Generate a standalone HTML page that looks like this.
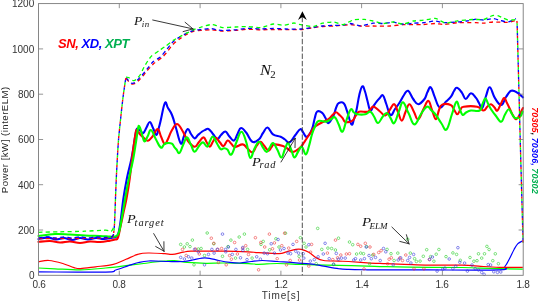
<!DOCTYPE html><html><head><meta charset="utf-8"><title>chart</title><style>
html,body{margin:0;padding:0;background:#fff}
body{width:539px;height:301px;position:relative;overflow:hidden;font-family:"Liberation Sans",sans-serif;color:#333}
.t{position:absolute;white-space:nowrap;line-height:1;will-change:transform}
.xt{font-size:10px;top:279.6px;letter-spacing:-0.3px;transform:translateX(-50%);}
.yt{font-size:10px;right:504.8px;transform:translateY(-50%);}
.m{font-family:"Liberation Serif",serif;font-style:italic;color:#111}
.m sub{font-size:72%;vertical-align:baseline;position:relative;top:0.25em;letter-spacing:0.3px}
.m .w{display:inline-block;transform:scaleX(1.1);transform-origin:0 50%;margin-right:0.02em}
</style></head><body>
<svg width="539" height="301" viewBox="0 0 539 301" style="position:absolute;left:0;top:0">
<defs><filter id="nf" x="-50%" y="-5%" width="200%" height="110%" color-interpolation-filters="sRGB"><feOffset dx="0" dy="0"/></filter></defs>
<rect width="539" height="301" fill="#fff"/>
<g fill="none" stroke-width="1.2" stroke-linejoin="round">
<path d="M38.5 268.0 C41.2 268.1 48.0 268.5 55.0 268.8 C62.0 269.1 72.0 270.0 80.5 269.9 C89.0 269.8 98.1 268.7 105.7 268.0 C113.3 267.3 119.7 266.4 126.0 265.6 C132.3 264.9 138.8 264.1 143.6 263.5 C148.4 262.9 151.4 262.4 155.0 262.0 C158.6 261.6 161.7 261.3 164.9 261.1 C168.1 260.9 170.5 260.4 174.2 260.6 C177.9 260.8 181.9 261.9 187.2 262.4 C192.5 262.8 199.6 263.2 205.8 263.3 C212.0 263.4 217.2 262.9 224.3 263.0 C231.4 263.1 242.8 263.4 248.5 263.6 C254.2 263.8 253.8 264.3 258.6 264.3 C263.4 264.3 271.0 263.5 277.2 263.5 C283.4 263.5 289.6 264.1 295.8 264.3 C302.0 264.5 307.2 264.6 314.3 264.8 C321.4 265.0 329.7 265.2 338.5 265.4 C347.3 265.6 359.3 265.9 367.2 266.1 C375.1 266.3 375.6 266.5 385.8 266.7 C396.0 266.9 415.8 267.3 428.5 267.4 C441.2 267.5 453.4 267.4 462.0 267.5 C470.6 267.6 469.9 267.8 480.0 268.1 C490.1 268.4 515.7 269.0 522.8 269.2" stroke="#00ff00"/>
<path d="M38.5 271.9 C49.7 271.9 92.8 272.4 105.7 272.1 C118.6 271.8 112.0 271.1 115.8 270.0 C119.6 268.9 124.6 266.9 128.4 265.6 C132.2 264.4 135.1 263.3 138.5 262.5 C141.9 261.7 143.6 261.2 148.6 261.0 C153.6 260.8 162.8 261.4 168.6 261.5 C174.4 261.6 179.5 261.8 183.5 261.5 C187.5 261.2 189.7 260.6 192.8 260.0 C195.9 259.4 199.2 258.4 202.0 258.1 C204.8 257.8 206.7 257.9 209.5 258.3 C212.3 258.7 215.4 259.8 218.8 260.5 C222.2 261.2 226.5 262.0 230.0 262.4 C233.5 262.8 236.5 263.1 240.0 263.0 C243.5 262.9 247.5 261.9 251.2 261.5 C254.9 261.1 258.0 260.5 262.3 260.5 C266.6 260.5 271.6 261.1 277.2 261.5 C282.8 261.9 289.6 262.3 295.8 262.8 C302.0 263.3 309.7 263.8 314.3 264.3 C318.9 264.9 319.6 265.4 323.6 266.1 C327.6 266.8 334.3 268.1 338.5 268.7 C342.7 269.2 343.8 269.2 348.6 269.4 C353.4 269.6 361.0 269.7 367.2 269.8 C373.4 269.9 375.6 269.8 385.8 269.8 C396.0 269.8 409.6 269.9 428.5 269.9 C447.4 269.9 486.6 270.4 499.3 269.8 C512.0 269.2 503.3 268.2 505.0 266.3 C506.7 264.4 508.1 261.4 509.6 258.5 C511.1 255.7 512.8 251.7 514.2 249.2 C515.6 246.7 516.5 245.0 517.9 243.6 C519.3 242.2 522.0 241.3 522.8 240.8" stroke="#0000ff"/>
<path d="M38.5 261.8 C40.2 261.6 45.0 260.2 49.0 260.5 C53.0 260.8 58.6 262.3 62.8 263.5 C67.0 264.7 71.0 266.8 74.0 267.6 C77.0 268.5 76.9 268.7 80.5 268.6 C84.1 268.5 90.1 267.5 95.6 266.8 C101.1 266.1 108.2 265.6 113.3 264.3 C118.4 263.1 121.8 261.0 126.0 259.3 C130.2 257.6 134.7 255.2 138.5 254.2 C142.3 253.1 144.2 253.1 148.6 253.0 C153.0 252.9 160.9 253.5 164.9 253.7 C168.9 253.9 169.2 254.7 172.3 254.4 C175.4 254.2 180.4 252.7 183.5 252.2 C186.6 251.7 184.1 251.4 190.9 251.2 C197.7 251.0 214.7 251.1 224.3 251.2 C233.9 251.3 242.8 251.6 248.5 251.8 C254.2 252.1 253.5 252.4 258.6 252.7 C263.7 253.0 274.4 253.8 279.0 253.7 C283.6 253.5 283.7 252.5 286.5 251.8 C289.3 251.1 293.3 249.8 295.8 249.4 C298.3 249.0 299.1 248.9 301.3 249.4 C303.5 249.9 306.3 250.8 308.8 252.2 C311.3 253.6 313.7 256.4 316.2 257.8 C318.7 259.2 319.9 259.9 323.6 260.5 C327.3 261.1 334.3 260.9 338.5 261.1 C342.7 261.3 343.8 261.2 348.6 261.5 C353.4 261.8 361.0 262.4 367.2 262.8 C373.4 263.2 379.6 263.4 385.8 263.7 C392.0 263.9 397.2 264.1 404.3 264.3 C411.4 264.5 418.9 265.0 428.5 265.1 C438.1 265.2 453.5 264.9 462.2 265.1 C470.9 265.3 474.6 265.9 480.8 266.3 C487.0 266.7 492.3 267.1 499.3 267.3 C506.3 267.5 518.9 267.4 522.8 267.4" stroke="#ff0000"/>
</g>
<g fill="none" stroke="#22cc22" stroke-width="0.58">
<circle cx="180.7" cy="244.4" r="1.3"/>
<circle cx="184.4" cy="247.0" r="1.3"/>
<circle cx="187.2" cy="243.8" r="1.3"/>
<circle cx="190.0" cy="246.6" r="1.3"/>
<circle cx="192.4" cy="240.1" r="1.3"/>
<circle cx="198.3" cy="249.0" r="1.3"/>
<circle cx="201.1" cy="248.5" r="1.3"/>
<circle cx="207.2" cy="233.0" r="1.3"/>
<circle cx="213.8" cy="243.8" r="1.3"/>
<circle cx="204.5" cy="255.5" r="1.3"/>
<circle cx="194.0" cy="264.8" r="1.3"/>
<circle cx="222.5" cy="256.3" r="1.3"/>
<circle cx="230.9" cy="240.1" r="1.3"/>
<circle cx="228.0" cy="246.6" r="1.3"/>
<circle cx="239.2" cy="237.0" r="1.3"/>
<circle cx="244.4" cy="234.1" r="1.3"/>
<circle cx="235.5" cy="258.1" r="1.3"/>
<circle cx="247.6" cy="249.4" r="1.3"/>
<circle cx="252.1" cy="258.1" r="1.3"/>
<circle cx="261.0" cy="244.4" r="1.3"/>
<circle cx="263.2" cy="241.4" r="1.3"/>
<circle cx="269.7" cy="249.8" r="1.3"/>
<circle cx="275.9" cy="238.8" r="1.3"/>
<circle cx="279.0" cy="247.0" r="1.3"/>
<circle cx="285.5" cy="233.2" r="1.3"/>
<circle cx="300.4" cy="237.7" r="1.3"/>
<circle cx="304.1" cy="243.3" r="1.3"/>
<circle cx="306.0" cy="247.0" r="1.3"/>
<circle cx="317.7" cy="228.4" r="1.3"/>
<circle cx="321.8" cy="249.4" r="1.3"/>
<circle cx="327.9" cy="248.1" r="1.3"/>
<circle cx="331.6" cy="248.5" r="1.3"/>
<circle cx="335.4" cy="250.0" r="1.3"/>
<circle cx="338.5" cy="238.2" r="1.3"/>
<circle cx="299.1" cy="256.3" r="1.3"/>
<circle cx="316.2" cy="263.7" r="1.3"/>
<circle cx="349.5" cy="242.0" r="1.3"/>
<circle cx="352.7" cy="244.7" r="1.3"/>
<circle cx="356.6" cy="254.0" r="1.3"/>
<circle cx="360.7" cy="253.1" r="1.3"/>
<circle cx="363.5" cy="253.7" r="1.3"/>
<circle cx="366.6" cy="246.6" r="1.3"/>
<circle cx="372.8" cy="255.0" r="1.3"/>
<circle cx="387.1" cy="249.4" r="1.3"/>
<circle cx="391.0" cy="253.7" r="1.3"/>
<circle cx="397.8" cy="253.1" r="1.3"/>
<circle cx="394.1" cy="260.5" r="1.3"/>
<circle cx="407.7" cy="239.2" r="1.3"/>
<circle cx="410.3" cy="253.1" r="1.3"/>
<circle cx="414.6" cy="258.7" r="1.3"/>
<circle cx="416.4" cy="261.5" r="1.3"/>
<circle cx="420.1" cy="261.1" r="1.3"/>
<circle cx="423.3" cy="256.3" r="1.3"/>
<circle cx="426.7" cy="249.7" r="1.3"/>
<circle cx="333.7" cy="264.3" r="1.3"/>
<circle cx="369.6" cy="263.7" r="1.3"/>
<circle cx="430.6" cy="256.6" r="1.3"/>
<circle cx="433.9" cy="261.2" r="1.3"/>
<circle cx="436.2" cy="254.2" r="1.3"/>
<circle cx="438.9" cy="249.5" r="1.3"/>
<circle cx="446.0" cy="256.6" r="1.3"/>
<circle cx="452.9" cy="252.9" r="1.3"/>
<circle cx="456.6" cy="254.4" r="1.3"/>
<circle cx="460.3" cy="260.3" r="1.3"/>
<circle cx="470.0" cy="257.5" r="1.3"/>
<circle cx="473.9" cy="261.2" r="1.3"/>
<circle cx="477.0" cy="260.7" r="1.3"/>
<circle cx="478.5" cy="253.8" r="1.3"/>
<circle cx="481.7" cy="258.1" r="1.3"/>
<circle cx="484.5" cy="253.8" r="1.3"/>
<circle cx="486.9" cy="246.4" r="1.3"/>
<circle cx="489.1" cy="249.5" r="1.3"/>
<circle cx="492.8" cy="260.7" r="1.3"/>
<circle cx="495.3" cy="253.8" r="1.3"/>
<circle cx="498.4" cy="263.7" r="1.3"/>
</g>
<g fill="none" stroke="#ee3333" stroke-width="0.58">
<circle cx="182.5" cy="249.4" r="1.3"/>
<circle cx="186.2" cy="255.5" r="1.3"/>
<circle cx="195.5" cy="249.0" r="1.3"/>
<circle cx="199.3" cy="254.0" r="1.3"/>
<circle cx="211.3" cy="238.2" r="1.3"/>
<circle cx="213.8" cy="243.3" r="1.3"/>
<circle cx="217.8" cy="249.4" r="1.3"/>
<circle cx="221.6" cy="248.5" r="1.3"/>
<circle cx="234.6" cy="242.5" r="1.3"/>
<circle cx="242.7" cy="248.3" r="1.3"/>
<circle cx="245.7" cy="245.7" r="1.3"/>
<circle cx="229.6" cy="255.5" r="1.3"/>
<circle cx="231.4" cy="259.2" r="1.3"/>
<circle cx="237.4" cy="254.0" r="1.3"/>
<circle cx="218.4" cy="262.4" r="1.3"/>
<circle cx="226.2" cy="264.8" r="1.3"/>
<circle cx="248.5" cy="254.5" r="1.3"/>
<circle cx="255.4" cy="237.7" r="1.3"/>
<circle cx="260.8" cy="242.5" r="1.3"/>
<circle cx="269.4" cy="234.1" r="1.3"/>
<circle cx="264.7" cy="247.0" r="1.3"/>
<circle cx="272.5" cy="248.8" r="1.3"/>
<circle cx="274.4" cy="242.9" r="1.3"/>
<circle cx="284.6" cy="233.2" r="1.3"/>
<circle cx="281.8" cy="245.7" r="1.3"/>
<circle cx="288.7" cy="248.1" r="1.3"/>
<circle cx="296.7" cy="241.4" r="1.3"/>
<circle cx="277.2" cy="258.7" r="1.3"/>
<circle cx="290.2" cy="260.5" r="1.3"/>
<circle cx="286.5" cy="264.8" r="1.3"/>
<circle cx="299.5" cy="260.0" r="1.3"/>
<circle cx="311.6" cy="244.4" r="1.3"/>
<circle cx="310.6" cy="252.2" r="1.3"/>
<circle cx="327.4" cy="253.1" r="1.3"/>
<circle cx="335.5" cy="240.1" r="1.3"/>
<circle cx="337.6" cy="257.8" r="1.3"/>
<circle cx="258.6" cy="269.8" r="1.3"/>
<circle cx="308.8" cy="266.1" r="1.3"/>
<circle cx="340.8" cy="255.0" r="1.3"/>
<circle cx="332.8" cy="259.6" r="1.3"/>
<circle cx="346.4" cy="254.0" r="1.3"/>
<circle cx="349.5" cy="253.7" r="1.3"/>
<circle cx="357.9" cy="244.4" r="1.3"/>
<circle cx="360.7" cy="246.2" r="1.3"/>
<circle cx="365.3" cy="243.3" r="1.3"/>
<circle cx="370.0" cy="247.0" r="1.3"/>
<circle cx="373.7" cy="254.4" r="1.3"/>
<circle cx="378.7" cy="252.5" r="1.3"/>
<circle cx="381.1" cy="250.7" r="1.3"/>
<circle cx="389.1" cy="259.2" r="1.3"/>
<circle cx="391.3" cy="257.8" r="1.3"/>
<circle cx="399.7" cy="258.1" r="1.3"/>
<circle cx="405.8" cy="255.0" r="1.3"/>
<circle cx="402.5" cy="260.5" r="1.3"/>
<circle cx="387.6" cy="263.7" r="1.3"/>
<circle cx="414.0" cy="268.9" r="1.3"/>
<circle cx="364.0" cy="268.9" r="1.3"/>
<circle cx="423.9" cy="268.9" r="1.3"/>
<circle cx="429.4" cy="259.6" r="1.3"/>
</g>
<g fill="none" stroke="#3333dd" stroke-width="0.58">
<circle cx="180.7" cy="257.4" r="1.3"/>
<circle cx="184.4" cy="259.0" r="1.3"/>
<circle cx="188.5" cy="256.8" r="1.3"/>
<circle cx="191.8" cy="258.1" r="1.3"/>
<circle cx="194.6" cy="249.4" r="1.3"/>
<circle cx="198.3" cy="251.8" r="1.3"/>
<circle cx="211.9" cy="249.4" r="1.3"/>
<circle cx="214.1" cy="253.1" r="1.3"/>
<circle cx="208.5" cy="254.4" r="1.3"/>
<circle cx="217.3" cy="249.4" r="1.3"/>
<circle cx="222.5" cy="234.1" r="1.3"/>
<circle cx="225.8" cy="251.8" r="1.3"/>
<circle cx="225.6" cy="249.4" r="1.3"/>
<circle cx="228.4" cy="247.0" r="1.3"/>
<circle cx="232.3" cy="254.4" r="1.3"/>
<circle cx="235.9" cy="249.4" r="1.3"/>
<circle cx="240.5" cy="257.8" r="1.3"/>
<circle cx="242.9" cy="250.3" r="1.3"/>
<circle cx="204.5" cy="264.8" r="1.3"/>
<circle cx="247.0" cy="259.6" r="1.3"/>
<circle cx="242.8" cy="247.5" r="1.3"/>
<circle cx="256.7" cy="256.8" r="1.3"/>
<circle cx="260.4" cy="259.2" r="1.3"/>
<circle cx="264.2" cy="253.1" r="1.3"/>
<circle cx="267.5" cy="253.7" r="1.3"/>
<circle cx="271.2" cy="243.8" r="1.3"/>
<circle cx="278.1" cy="239.5" r="1.3"/>
<circle cx="274.4" cy="253.1" r="1.3"/>
<circle cx="280.5" cy="250.0" r="1.3"/>
<circle cx="284.0" cy="248.5" r="1.3"/>
<circle cx="288.0" cy="253.1" r="1.3"/>
<circle cx="290.6" cy="253.7" r="1.3"/>
<circle cx="293.0" cy="244.4" r="1.3"/>
<circle cx="295.8" cy="251.2" r="1.3"/>
<circle cx="298.6" cy="253.1" r="1.3"/>
<circle cx="303.2" cy="253.7" r="1.3"/>
<circle cx="303.8" cy="258.1" r="1.3"/>
<circle cx="308.8" cy="244.7" r="1.3"/>
<circle cx="310.3" cy="261.1" r="1.3"/>
<circle cx="314.3" cy="259.6" r="1.3"/>
<circle cx="318.1" cy="256.8" r="1.3"/>
<circle cx="323.3" cy="254.0" r="1.3"/>
<circle cx="325.1" cy="243.3" r="1.3"/>
<circle cx="329.2" cy="258.7" r="1.3"/>
<circle cx="333.5" cy="264.3" r="1.3"/>
<circle cx="336.3" cy="253.4" r="1.3"/>
<circle cx="338.4" cy="259.2" r="1.3"/>
<circle cx="341.5" cy="258.1" r="1.3"/>
<circle cx="345.2" cy="258.1" r="1.3"/>
<circle cx="353.8" cy="260.0" r="1.3"/>
<circle cx="355.5" cy="258.7" r="1.3"/>
<circle cx="360.7" cy="260.0" r="1.3"/>
<circle cx="364.4" cy="258.7" r="1.3"/>
<circle cx="366.2" cy="247.0" r="1.3"/>
<circle cx="369.0" cy="255.5" r="1.3"/>
<circle cx="371.3" cy="258.7" r="1.3"/>
<circle cx="375.5" cy="257.4" r="1.3"/>
<circle cx="383.5" cy="248.5" r="1.3"/>
<circle cx="385.8" cy="251.8" r="1.3"/>
<circle cx="380.2" cy="260.5" r="1.3"/>
<circle cx="393.2" cy="264.8" r="1.3"/>
<circle cx="398.2" cy="260.0" r="1.3"/>
<circle cx="400.6" cy="257.8" r="1.3"/>
<circle cx="407.7" cy="260.5" r="1.3"/>
<circle cx="409.6" cy="257.4" r="1.3"/>
<circle cx="413.6" cy="254.4" r="1.3"/>
<circle cx="410.9" cy="263.0" r="1.3"/>
<circle cx="429.6" cy="259.4" r="1.3"/>
<circle cx="432.4" cy="257.0" r="1.3"/>
<circle cx="437.1" cy="271.1" r="1.3"/>
<circle cx="442.7" cy="269.2" r="1.3"/>
<circle cx="444.9" cy="268.1" r="1.3"/>
<circle cx="449.2" cy="259.0" r="1.3"/>
<circle cx="452.9" cy="268.7" r="1.3"/>
<circle cx="455.7" cy="266.3" r="1.3"/>
<circle cx="457.9" cy="247.7" r="1.3"/>
<circle cx="459.8" cy="262.2" r="1.3"/>
<circle cx="464.6" cy="263.1" r="1.3"/>
<circle cx="467.4" cy="271.1" r="1.3"/>
<circle cx="472.0" cy="265.0" r="1.3"/>
<circle cx="475.2" cy="268.7" r="1.3"/>
<circle cx="478.5" cy="270.0" r="1.3"/>
<circle cx="481.7" cy="272.4" r="1.3"/>
<circle cx="484.1" cy="274.3" r="1.3"/>
<circle cx="488.2" cy="264.6" r="1.3"/>
<circle cx="490.6" cy="265.0" r="1.3"/>
<circle cx="493.8" cy="271.8" r="1.3"/>
<circle cx="497.5" cy="272.4" r="1.3"/>
<circle cx="500.8" cy="272.0" r="1.3"/>
</g>
<g fill="none" stroke-width="2.1" stroke-linejoin="round" stroke-linecap="round">
<path d="M38.5 239.0 C40.5 238.7 44.4 237.5 48.0 237.6 C51.6 237.7 52.7 239.4 56.0 239.5 C59.3 239.6 60.7 237.9 64.0 238.0 C67.3 238.1 68.7 240.0 72.0 240.0 C75.3 240.0 76.7 238.1 80.0 238.0 C83.3 237.9 84.7 239.5 88.0 239.5 C91.3 239.5 92.7 238.1 96.0 238.0 C99.3 237.9 100.7 239.1 104.0 239.0 C107.3 238.9 109.5 238.1 112.0 237.6 C114.5 237.1 114.7 237.8 116.0 236.8 C117.3 235.8 117.6 236.1 118.5 233.0 C119.4 229.9 119.5 229.2 120.5 222.0 C121.5 214.8 122.2 207.1 123.5 198.0 C124.8 188.9 125.4 186.1 127.0 178.0 C128.6 169.9 129.9 166.4 131.4 159.0 C132.9 151.6 133.3 148.0 134.3 142.0 C135.3 136.0 135.6 132.6 136.4 130.0 C137.2 127.4 137.3 129.2 138.0 129.3 C138.7 129.4 138.9 129.6 140.0 130.4 C141.1 131.2 142.0 133.6 143.3 133.0 C144.6 132.4 145.2 129.8 146.5 127.5 C147.8 125.2 148.5 121.9 149.8 122.0 C151.1 122.1 151.7 125.3 153.0 128.0 C154.3 130.7 155.2 134.8 156.3 135.0 C157.4 135.2 157.6 132.1 158.5 129.0 C159.4 125.9 159.5 125.4 160.8 120.0 C162.1 114.6 163.4 105.5 164.9 103.0 C166.4 100.5 166.5 105.5 168.0 108.0 C169.5 110.5 170.3 110.9 172.0 115.0 C173.7 119.1 174.2 122.1 176.0 128.0 C177.8 133.9 179.1 141.7 180.8 143.4 C182.5 145.1 182.6 139.0 184.0 136.0 C185.4 133.0 186.4 129.4 187.8 129.0 C189.2 128.6 189.6 132.1 191.0 134.0 C192.4 135.9 193.2 138.2 194.6 138.4 C196.0 138.6 196.4 136.4 198.0 135.0 C199.6 133.6 200.8 132.5 202.2 131.5 C203.6 130.5 203.7 130.5 205.0 130.0 C206.3 129.5 206.8 128.2 208.5 129.0 C210.2 129.8 211.2 131.9 213.0 134.0 C214.8 136.1 215.6 138.8 217.3 139.0 C219.0 139.2 219.3 136.6 221.0 135.0 C222.7 133.4 223.7 131.3 225.4 131.5 C227.1 131.7 227.2 134.1 229.0 136.0 C230.8 137.9 232.1 141.0 233.9 140.6 C235.7 140.2 236.0 136.6 237.5 134.0 C239.0 131.4 239.1 128.2 241.0 128.0 C242.9 127.8 244.2 130.1 246.5 133.0 C248.8 135.9 249.7 140.5 252.3 141.8 C254.9 143.1 256.8 141.1 259.0 139.3 C261.2 137.5 261.2 135.4 263.0 133.0 C264.8 130.6 265.4 127.2 267.5 127.5 C269.6 127.8 270.3 132.4 273.0 134.3 C275.7 136.2 278.1 135.7 280.6 136.8 C283.1 137.9 283.2 138.3 285.0 139.5 C286.8 140.7 287.3 143.4 289.4 142.6 C291.5 141.8 292.7 138.3 295.0 135.5 C297.3 132.7 298.5 129.7 300.3 129.2 C302.1 128.7 302.1 131.4 303.5 133.0 C304.9 134.6 305.2 137.6 307.0 136.8 C308.8 136.0 310.4 133.1 312.0 129.2 C313.6 125.3 313.7 121.7 314.8 118.0 C315.9 114.3 315.7 112.6 317.2 111.5 C318.7 110.4 320.5 111.5 322.2 112.8 C323.9 114.1 324.2 115.9 325.5 118.0 C326.8 120.1 326.8 123.6 328.5 123.0 C330.2 122.4 332.1 118.4 333.6 115.3 C335.2 112.2 334.9 110.5 336.0 108.0 C337.1 105.5 337.1 104.2 338.7 103.2 C340.3 102.2 342.0 101.6 343.7 103.2 C345.4 104.8 345.4 106.6 347.0 111.0 C348.6 115.4 350.0 122.7 351.4 124.4 C352.8 126.1 353.0 121.9 354.0 119.0 C355.0 116.1 355.3 115.5 356.4 110.5 C357.5 105.5 358.1 100.0 359.3 95.0 C360.5 90.0 361.1 87.0 362.3 86.3 C363.5 85.6 363.9 88.5 365.0 91.5 C366.1 94.5 366.4 97.1 367.5 101.0 C368.6 104.9 369.1 109.5 370.3 110.5 C371.5 111.5 372.2 107.8 373.5 106.0 C374.8 104.2 375.3 103.3 376.6 101.6 C377.9 99.9 378.5 99.3 379.8 98.0 C381.1 96.7 381.7 94.2 383.0 95.4 C384.3 96.6 384.8 99.9 386.3 104.0 C387.9 108.1 388.7 114.0 390.5 115.0 C392.3 116.0 393.2 111.5 395.0 109.0 C396.8 106.5 397.4 105.9 399.3 103.0 C401.2 100.1 402.2 97.5 404.0 95.0 C405.8 92.5 406.2 90.0 408.1 90.8 C410.0 91.6 411.1 96.2 413.2 99.0 C415.3 101.8 415.9 104.2 418.2 104.2 C420.5 104.2 422.6 101.5 424.5 99.0 C426.4 96.5 426.2 94.4 427.5 92.0 C428.8 89.6 429.3 86.3 430.8 87.3 C432.3 88.3 432.8 92.4 434.6 96.6 C436.4 100.8 437.3 106.4 439.7 107.4 C442.1 108.4 443.7 103.8 446.0 101.6 C448.3 99.4 449.3 98.8 451.0 96.6 C452.7 94.4 452.8 92.8 454.0 91.0 C455.2 89.2 455.3 87.4 457.0 87.8 C458.7 88.2 460.2 90.5 462.0 92.8 C463.8 95.1 464.0 98.9 465.8 99.0 C467.6 99.1 468.8 93.5 470.9 93.3 C473.0 93.1 474.3 95.9 476.0 97.9 C477.7 99.9 477.7 100.9 479.0 103.0 C480.3 105.1 480.8 109.4 482.2 108.0 C483.6 106.6 484.4 100.3 486.0 96.0 C487.6 91.7 488.0 86.9 489.8 87.3 C491.6 87.7 492.4 94.2 494.8 97.9 C497.2 101.6 498.9 105.2 501.2 105.0 C503.5 104.8 503.9 99.9 506.0 97.0 C508.1 94.1 508.8 91.7 511.2 90.8 C513.6 89.9 515.2 91.4 517.6 92.8 C520.0 94.2 521.9 96.4 523.0 97.4" stroke="#0000ff"/>
<path d="M38.5 241.8 C40.9 241.6 45.6 240.9 50.0 241.0 C54.4 241.1 55.9 242.4 60.0 242.5 C64.1 242.6 65.9 241.4 70.0 241.5 C74.1 241.6 75.9 243.0 80.0 243.0 C84.1 243.0 85.9 241.7 90.0 241.5 C94.1 241.3 95.9 242.2 100.0 242.0 C104.1 241.8 106.9 241.1 110.0 240.6 C113.1 240.1 113.3 240.1 115.0 239.5 C116.7 238.9 116.8 240.5 118.0 237.5 C119.2 234.5 119.6 230.3 120.8 225.0 C122.0 219.7 122.4 217.6 123.6 212.0 C124.8 206.4 125.3 205.0 126.6 198.0 C127.9 191.0 128.7 186.1 129.8 178.0 C130.9 169.9 131.2 165.8 132.0 159.0 C132.8 152.2 133.1 150.0 133.8 145.0 C134.5 140.0 134.7 138.2 135.3 135.0 C135.9 131.8 135.8 129.8 136.8 129.7 C137.8 129.6 138.5 132.6 140.0 134.3 C141.5 136.0 142.4 136.7 144.0 138.0 C145.6 139.3 146.1 141.1 147.9 140.8 C149.7 140.5 150.5 138.9 152.5 136.5 C154.5 134.1 155.8 129.1 157.6 129.1 C159.4 129.1 159.5 133.4 161.0 136.5 C162.5 139.6 163.3 143.5 164.7 144.0 C166.1 144.5 166.5 141.9 168.0 139.0 C169.5 136.1 170.1 133.1 172.0 130.0 C173.9 126.9 174.9 124.0 177.0 124.0 C179.1 124.0 179.7 126.5 182.0 130.0 C184.3 133.5 185.4 137.5 188.0 141.0 C190.6 144.5 192.3 146.5 194.6 146.7 C196.9 146.9 197.2 143.9 199.0 142.0 C200.8 140.1 201.9 137.4 203.5 137.4 C205.1 137.4 205.2 140.1 206.5 142.0 C207.8 143.9 208.5 146.8 209.8 146.7 C211.1 146.6 211.7 143.3 213.0 141.5 C214.3 139.7 214.6 137.7 216.0 137.9 C217.4 138.1 218.4 140.8 220.0 142.5 C221.6 144.2 222.0 146.4 223.6 146.0 C225.2 145.6 226.0 141.0 227.6 140.6 C229.2 140.2 230.0 142.7 231.5 144.0 C233.0 145.3 232.7 146.9 235.0 147.0 C237.3 147.1 240.1 144.1 242.7 144.4 C245.3 144.7 245.5 146.9 247.5 148.5 C249.5 150.1 250.6 152.8 252.5 152.3 C254.4 151.8 254.9 148.2 256.5 146.0 C258.1 143.8 258.8 141.9 260.4 141.8 C261.9 141.7 262.3 143.7 264.0 145.5 C265.7 147.3 266.9 150.3 268.5 150.6 C270.1 150.9 270.3 148.3 271.5 147.0 C272.7 145.7 271.9 144.6 274.3 144.4 C276.7 144.2 280.2 145.0 283.0 146.0 C285.8 147.0 286.1 147.8 288.0 149.0 C289.9 150.2 290.2 151.5 292.0 151.8 C293.8 152.1 294.7 151.3 296.5 150.3 C298.3 149.3 299.2 148.6 300.8 147.0 C302.4 145.4 302.7 144.4 304.0 142.5 C305.3 140.6 305.6 140.2 307.0 138.0 C308.4 135.8 309.4 134.3 311.0 132.0 C312.6 129.7 312.6 128.6 314.7 126.7 C316.8 124.8 318.1 124.6 321.0 123.0 C323.9 121.4 326.1 120.7 328.5 119.0 C330.9 117.3 330.9 116.4 332.5 115.0 C334.1 113.6 334.6 112.3 336.0 112.3 C337.4 112.3 338.2 113.8 339.5 115.0 C340.8 116.2 341.3 116.5 342.4 117.9 C343.5 119.3 343.6 121.0 345.0 121.8 C346.4 122.6 347.4 122.2 349.0 122.0 C350.6 121.8 351.2 121.9 352.6 120.6 C354.0 119.3 354.7 117.3 356.0 115.5 C357.3 113.7 356.6 112.5 359.0 111.7 C361.4 110.9 365.3 112.4 367.8 111.7 C370.3 111.0 369.7 109.5 371.0 108.5 C372.3 107.5 372.1 106.1 374.0 106.7 C375.9 107.3 377.6 109.7 380.0 111.5 C382.4 113.3 383.3 115.9 385.4 115.5 C387.5 115.1 388.2 111.8 390.0 109.5 C391.8 107.2 392.6 103.7 394.3 104.2 C396.0 104.7 396.4 108.6 398.0 112.0 C399.6 115.4 400.2 120.6 401.8 120.6 C403.4 120.6 403.9 115.4 405.5 112.0 C407.1 108.6 407.6 104.2 409.4 104.2 C411.2 104.2 412.2 108.9 414.0 112.0 C415.8 115.1 416.2 119.9 418.2 119.3 C420.2 118.7 421.4 112.8 423.5 109.0 C425.6 105.2 426.5 100.7 428.3 100.9 C430.1 101.1 430.4 106.2 432.0 110.0 C433.6 113.8 434.5 119.3 435.9 119.3 C437.3 119.3 437.7 113.0 439.0 110.0 C440.3 107.0 439.8 105.6 442.2 104.6 C444.6 103.6 448.3 104.0 450.7 105.0 C453.1 106.0 452.6 107.6 454.0 109.5 C455.4 111.4 456.0 114.3 457.3 114.3 C458.6 114.3 459.2 111.1 460.5 109.5 C461.8 107.9 460.3 107.3 463.8 106.7 C467.3 106.1 473.1 105.9 477.2 106.7 C481.3 107.5 481.4 110.5 483.5 110.5 C485.6 110.5 485.9 107.8 487.5 106.5 C489.1 105.2 489.6 104.0 491.0 104.2 C492.4 104.4 493.2 106.2 494.5 107.5 C495.8 108.8 496.1 111.3 497.4 110.5 C498.7 109.7 499.6 106.1 501.0 103.5 C502.4 100.9 503.0 98.0 504.2 97.9 C505.4 97.8 505.8 100.7 507.0 103.0 C508.2 105.3 508.8 106.6 510.0 109.2 C511.2 111.8 511.7 113.4 513.0 115.5 C514.3 117.6 515.0 119.4 516.3 119.3 C517.6 119.2 518.1 117.3 519.5 115.0 C520.9 112.7 522.3 109.4 523.0 108.0" stroke="#ff0000"/>
<path d="M38.5 236.0 C41.9 235.6 48.5 234.3 55.0 234.0 C61.5 233.7 63.8 234.2 70.0 234.5 C76.2 234.8 78.8 235.2 85.0 235.5 C91.2 235.8 94.8 235.8 100.0 236.0 C105.2 236.2 107.0 236.5 110.0 236.6 C113.0 236.7 113.0 237.0 114.7 236.6 C116.4 236.2 116.9 236.3 118.0 234.5 C119.1 232.7 119.2 231.6 120.0 228.0 C120.8 224.4 120.9 223.2 122.0 217.0 C123.1 210.8 123.8 206.1 125.2 198.0 C126.6 189.9 127.3 186.1 129.0 178.0 C130.7 169.9 131.8 166.4 133.2 159.0 C134.6 151.6 135.0 148.0 136.0 142.0 C137.0 136.0 137.2 133.3 137.8 130.0 C138.4 126.7 138.2 126.0 138.8 125.8 C139.4 125.6 139.7 126.9 140.5 129.0 C141.3 131.1 141.7 133.4 142.5 136.0 C143.3 138.6 143.5 141.4 144.6 141.4 C145.7 141.4 146.5 138.3 147.8 136.0 C149.1 133.7 149.4 129.4 151.1 130.1 C152.8 130.8 154.0 135.9 156.0 139.5 C158.0 143.1 159.1 146.5 160.8 147.5 C162.5 148.5 162.8 145.4 164.0 144.5 C165.2 143.6 165.1 143.3 166.7 143.1 C168.3 142.9 170.3 142.7 171.9 143.6 C173.5 144.5 173.5 146.1 174.5 147.3 C175.5 148.5 175.5 148.3 176.5 149.5 C177.5 150.7 178.1 154.1 179.5 153.0 C180.9 151.9 181.9 147.2 183.5 144.0 C185.1 140.8 185.4 137.2 187.0 137.4 C188.6 137.6 189.4 142.0 191.0 145.0 C192.6 148.0 192.9 151.5 194.6 151.7 C196.3 151.9 197.3 147.9 199.0 146.0 C200.7 144.1 201.3 142.3 203.0 142.4 C204.7 142.5 205.8 147.0 207.2 146.7 C208.6 146.4 208.8 143.1 210.0 141.0 C211.2 138.9 211.6 136.1 213.0 136.6 C214.4 137.1 215.4 140.9 217.0 143.5 C218.6 146.1 219.2 148.2 220.6 149.2 C222.0 150.2 222.6 148.1 224.0 148.2 C225.4 148.3 225.9 148.2 227.4 149.5 C228.9 150.8 229.5 156.0 231.4 154.4 C233.3 152.8 234.4 146.7 236.5 142.0 C238.6 137.3 239.4 131.5 241.5 131.7 C243.6 131.9 244.7 137.6 246.5 143.0 C248.3 148.4 248.5 156.7 250.2 157.8 C251.9 158.9 252.7 151.8 254.5 148.5 C256.3 145.2 257.2 142.0 259.0 141.8 C260.8 141.6 261.4 145.4 263.0 147.5 C264.6 149.6 265.3 152.1 266.7 152.0 C268.1 151.9 268.7 148.9 270.0 147.0 C271.3 145.1 271.4 142.4 273.0 143.0 C274.6 143.6 275.8 147.0 277.5 150.0 C279.2 153.0 279.8 157.7 281.3 157.5 C282.9 157.3 283.6 152.0 285.0 149.0 C286.4 146.0 286.7 142.7 288.0 143.0 C289.3 143.3 290.2 147.5 291.5 150.5 C292.8 153.5 293.1 157.3 294.5 157.4 C295.9 157.5 296.9 153.1 298.5 151.0 C300.1 148.9 300.5 146.3 302.0 147.0 C303.5 147.7 304.4 154.6 305.8 154.4 C307.2 154.2 307.7 150.2 309.0 146.0 C310.3 141.8 310.8 138.3 312.0 134.3 C313.2 130.3 313.7 129.2 315.0 126.5 C316.3 123.8 316.1 122.0 318.4 121.0 C320.7 120.0 323.5 121.9 326.0 121.6 C328.5 121.3 328.7 120.4 330.5 119.5 C332.3 118.6 333.1 116.4 334.8 117.3 C336.5 118.2 336.9 121.0 338.5 124.0 C340.1 127.0 340.7 132.5 342.4 131.7 C344.1 130.9 344.8 124.6 346.5 120.0 C348.2 115.4 349.1 111.0 350.7 109.5 C352.2 108.0 352.6 111.5 354.0 112.5 C355.4 113.5 355.4 113.9 357.7 114.3 C360.0 114.7 362.6 114.8 365.2 114.3 C367.8 113.8 368.5 111.2 370.3 111.7 C372.1 112.2 372.4 114.2 374.0 116.5 C375.6 118.8 376.1 122.9 377.9 123.0 C379.7 123.1 380.7 119.1 382.5 117.0 C384.3 114.9 385.0 112.8 386.7 113.0 C388.4 113.2 388.9 115.9 390.5 118.0 C392.1 120.1 392.5 124.4 394.3 123.0 C396.1 121.6 397.2 115.3 399.0 111.0 C400.8 106.7 401.0 102.0 403.0 102.4 C405.0 102.8 406.1 108.5 408.5 113.0 C410.9 117.5 411.8 124.2 414.4 124.4 C417.0 124.6 418.4 117.7 421.0 114.0 C423.6 110.3 424.8 107.4 427.0 106.7 C429.2 106.0 429.7 108.8 431.5 110.5 C433.3 112.2 433.8 112.3 435.9 115.0 C438.0 117.7 439.3 120.5 441.5 123.5 C443.7 126.5 444.4 131.4 446.6 129.4 C448.8 127.4 450.0 119.7 452.0 114.0 C454.0 108.3 454.8 102.9 456.4 101.8 C457.9 100.7 458.2 105.8 459.5 108.5 C460.8 111.2 461.2 114.0 462.5 114.8 C463.8 115.6 464.3 113.4 466.0 112.5 C467.7 111.6 468.1 110.9 470.9 110.5 C473.7 110.1 477.3 111.8 479.7 110.5 C482.1 109.2 481.3 106.5 482.5 104.0 C483.7 101.5 484.2 98.5 485.3 98.4 C486.4 98.3 486.8 101.3 488.0 103.5 C489.2 105.7 489.3 106.6 491.0 109.2 C492.7 111.8 493.9 113.4 496.0 116.0 C498.1 118.6 499.3 122.1 501.2 121.8 C503.1 121.5 503.4 117.1 505.0 114.5 C506.6 111.9 507.3 109.3 508.7 109.2 C510.1 109.1 510.7 112.2 512.0 114.0 C513.3 115.8 513.3 117.4 515.0 118.0 C516.7 118.6 518.4 118.1 520.0 116.8 C521.6 115.5 522.1 112.8 522.6 111.7" stroke="#00ff00"/>
</g>
<g fill="none" stroke-width="1.3" stroke-dasharray="4 3.3">
<path d="M38.5 238.6 C41.0 238.6 54.6 238.6 60.0 238.6 C65.4 238.6 79.8 238.5 85.0 238.4 C90.2 238.3 101.8 238.1 105.0 238.0 C108.2 237.9 111.0 238.1 112.0 237.5 C113.0 236.9 113.8 233.5 114.0 233.0" stroke="#ff0000"/>
<path d="M126.3 78.5 C126.6 78.8 128.1 80.9 128.7 81.5 C129.3 82.1 131.0 83.8 131.8 84.0 C132.6 84.2 134.4 83.8 135.3 83.3 C136.2 82.8 138.5 80.8 139.3 80.0 C140.1 79.2 141.6 77.5 142.5 76.5 C143.4 75.5 145.3 72.8 146.7 71.2 C148.1 69.6 152.5 64.7 154.3 63.1 C156.1 61.5 160.5 58.8 161.9 57.6 C163.3 56.4 164.9 54.6 166.2 53.0 C167.5 51.4 171.6 45.8 173.2 44.2 C174.8 42.6 177.9 40.3 179.5 39.1 C181.1 37.9 185.4 35.0 187.1 34.1 C188.8 33.2 192.4 31.4 194.0 31.0 C195.6 30.6 199.0 30.4 201.0 30.3 C203.0 30.2 208.6 29.7 211.1 29.8 C213.6 29.9 220.0 30.9 222.8 31.0 C225.6 31.1 232.5 30.6 235.4 30.4 C238.3 30.2 245.0 29.4 248.0 29.3 C251.0 29.2 257.7 29.8 260.7 29.8 C263.7 29.8 270.3 29.6 273.3 29.6 C276.3 29.6 282.8 29.6 286.0 29.6 C289.2 29.6 297.9 29.8 301.0 29.6 C304.1 29.4 310.0 28.2 312.5 27.8 C315.0 27.4 320.1 26.7 322.6 26.5 C325.1 26.3 330.8 26.2 334.0 26.0 C337.2 25.8 346.9 24.7 350.0 24.7 C353.1 24.7 357.8 25.8 360.5 26.0 C363.2 26.2 369.6 26.0 373.0 26.0 C376.4 26.0 386.5 26.2 390.0 26.0 C393.5 25.8 399.1 24.9 403.0 24.7 C406.9 24.5 419.3 24.6 423.0 24.5 C426.7 24.4 432.6 23.5 435.0 23.5 C437.4 23.5 441.2 24.6 443.8 24.5 C446.4 24.4 453.8 22.9 457.6 22.7 C461.4 22.5 473.0 22.6 476.0 22.7 C479.0 22.8 481.6 23.3 483.6 23.2 C485.6 23.1 490.2 22.1 493.0 22.0 C495.8 21.9 505.1 22.5 507.8 22.3 C510.5 22.1 515.0 20.6 516.0 20.4" stroke="#ff0000" stroke-dashoffset="0.0"/>
<path d="M38.5 237.8 C39.6 237.7 46.0 236.8 48.0 236.8 C50.0 236.8 54.1 238.0 56.0 238.0 C57.9 238.0 62.1 236.8 64.0 236.8 C65.9 236.8 70.1 238.0 72.0 238.0 C73.9 238.0 78.1 236.8 80.0 236.8 C81.9 236.8 86.1 238.0 88.0 238.0 C89.9 238.0 94.1 236.9 96.0 236.8 C97.9 236.7 102.1 237.5 104.0 237.5 C105.9 237.5 110.8 237.1 112.0 236.6 C113.2 236.1 113.7 233.4 113.9 233.0" stroke="#0000ff"/>
<path d="M126.2 78.0 C126.5 78.3 127.9 79.9 128.5 80.5 C129.1 81.1 130.7 83.0 131.5 83.2 C132.3 83.4 134.1 83.0 135.0 82.5 C135.9 82.0 138.2 79.3 139.0 78.5 C139.8 77.7 140.8 76.8 141.7 75.7 C142.6 74.6 145.4 71.0 146.7 69.4 C148.0 67.8 151.4 63.3 153.0 61.8 C154.6 60.3 159.0 58.3 160.6 56.8 C162.2 55.3 165.6 50.8 166.9 49.2 C168.2 47.6 170.7 44.2 172.0 42.9 C173.3 41.6 176.7 39.0 178.3 37.9 C179.9 36.8 184.1 34.5 185.9 33.6 C187.7 32.7 191.6 31.0 193.4 30.5 C195.2 30.0 198.9 29.7 201.0 29.5 C203.1 29.3 209.2 28.5 211.1 28.5 C213.0 28.5 215.6 29.6 217.0 29.8 C218.4 30.0 220.7 30.6 222.8 30.6 C224.9 30.6 232.5 30.1 235.4 29.8 C238.3 29.5 245.0 28.4 248.0 28.3 C251.0 28.2 257.7 29.0 260.7 29.0 C263.7 29.0 270.3 28.5 273.3 28.5 C276.3 28.5 282.8 28.9 286.0 29.0 C289.2 29.1 297.8 29.2 301.0 29.0 C304.2 28.8 311.2 27.7 313.7 27.3 C316.2 26.9 320.2 26.2 322.6 26.0 C325.0 25.8 331.6 25.4 334.0 25.3 C336.4 25.2 340.9 25.5 342.8 25.3 C344.7 25.1 348.3 23.4 350.4 23.5 C352.5 23.6 357.9 25.8 360.5 25.8 C363.1 25.8 370.4 23.5 373.0 23.2 C375.6 22.9 380.8 23.6 383.2 23.5 C385.6 23.4 390.9 22.1 393.3 22.2 C395.7 22.3 401.0 24.1 403.4 24.2 C405.8 24.3 411.1 23.4 413.5 23.2 C415.9 23.0 421.1 23.0 423.6 22.7 C426.1 22.4 432.6 21.0 435.0 21.0 C437.4 21.0 441.2 22.6 443.8 22.7 C446.4 22.8 454.9 22.2 457.6 22.0 C460.3 21.8 464.7 21.3 466.9 21.0 C469.1 20.7 474.3 19.2 476.2 19.1 C478.1 19.0 481.6 20.1 483.6 20.0 C485.6 19.9 491.1 18.6 493.0 18.6 C494.9 18.6 498.6 20.0 500.3 20.4 C502.0 20.8 506.4 22.0 507.8 22.0 C509.2 22.0 511.0 20.9 512.0 20.5 C513.0 20.1 515.5 18.8 516.0 18.6" stroke="#0000ff" stroke-dashoffset="0.5"/>
<path d="M38.5 232.3 C41.0 232.2 54.6 231.9 60.0 231.8 C65.4 231.7 79.7 231.4 85.0 231.2 C90.3 231.0 102.7 230.2 105.7 230.2 C108.7 230.2 110.1 231.8 111.0 231.5 C111.9 231.2 113.1 228.4 113.4 228.0" stroke="#00ff00"/>
<path d="M126.0 77.2 C126.3 77.2 127.9 77.2 128.5 77.5 C129.1 77.8 130.4 79.1 131.0 79.5 C131.6 79.9 133.3 80.8 134.0 80.7 C134.7 80.6 136.3 79.2 137.0 78.5 C137.7 77.8 139.6 75.9 140.4 74.5 C141.2 73.1 143.3 68.5 144.2 66.9 C145.1 65.3 147.1 61.9 148.0 60.6 C148.9 59.3 150.5 57.0 151.8 55.8 C153.1 54.6 157.7 51.6 159.3 50.5 C160.9 49.4 164.0 47.4 165.6 46.2 C167.2 45.0 171.4 41.6 173.2 40.4 C175.0 39.2 179.0 37.0 180.8 36.1 C182.6 35.2 186.8 33.1 188.4 32.3 C190.0 31.5 193.3 29.8 194.7 29.2 C196.1 28.6 198.7 27.9 200.0 27.5 C201.3 27.1 204.6 26.0 206.0 25.6 C207.4 25.2 210.5 24.5 211.8 24.5 C213.1 24.5 215.7 25.4 217.0 25.8 C218.3 26.2 220.7 27.5 222.8 27.6 C224.9 27.7 232.5 27.1 235.4 27.0 C238.3 26.9 245.0 26.5 248.0 26.6 C251.0 26.7 258.5 27.7 260.7 27.6 C262.9 27.5 265.5 26.2 267.0 25.8 C268.5 25.4 271.4 24.1 273.3 24.0 C275.2 23.9 281.6 25.3 283.4 25.3 C285.2 25.3 287.8 24.5 289.0 24.2 C290.2 23.9 292.8 23.0 294.0 23.0 C295.2 23.0 297.7 24.1 299.0 24.4 C300.3 24.7 303.3 25.2 305.0 25.4 C306.7 25.6 311.6 26.8 313.7 26.5 C315.8 26.2 320.2 23.7 322.6 23.2 C325.0 22.7 331.6 21.8 334.0 22.0 C336.4 22.2 341.2 24.6 342.8 24.7 C344.4 24.8 346.7 23.1 348.0 22.5 C349.3 21.9 352.3 20.1 354.2 19.7 C356.1 19.3 362.1 19.2 364.3 19.4 C366.5 19.6 370.8 20.5 373.0 21.0 C375.2 21.5 380.8 23.4 383.2 23.5 C385.6 23.6 390.9 21.9 393.3 22.0 C395.7 22.1 401.0 24.1 403.4 24.0 C405.8 23.9 411.1 21.4 413.5 21.0 C415.9 20.6 421.1 20.5 423.6 20.2 C426.1 19.9 433.1 18.4 435.0 18.4 C436.9 18.4 438.7 19.9 440.0 20.5 C441.3 21.1 444.3 23.2 446.4 23.2 C448.5 23.2 454.6 21.2 457.6 20.8 C460.6 20.4 469.5 19.7 472.5 19.5 C475.5 19.3 481.7 19.8 483.6 19.5 C485.5 19.2 487.8 17.5 489.0 17.0 C490.2 16.5 492.7 15.5 493.8 15.4 C494.9 15.3 497.4 15.5 498.5 15.8 C499.6 16.1 501.9 17.5 503.0 18.0 C504.1 18.5 506.8 19.8 507.8 20.0 C508.9 20.2 511.0 20.1 512.0 20.0 C513.0 19.9 515.5 19.6 516.0 19.5" stroke="#00ff00" stroke-dashoffset="0.0"/>
</g>
<g fill="none" stroke-width="1.35" stroke-dasharray="2.45 4.85">
<path d="M113.7 233.0 C113.8 231.7 114.3 228.7 114.6 222.0 C114.9 215.3 115.9 185.6 116.4 176.0 C116.9 166.4 117.8 148.9 118.5 140.0 C119.2 131.1 121.9 106.8 122.7 100.0 C123.5 93.2 124.8 84.6 125.2 82.0 C125.6 79.4 125.9 78.5 126.0 78.0" stroke="#ff0000" stroke-dashoffset="0.00"/>
<path d="M113.7 233.0 C113.8 231.7 114.3 228.7 114.6 222.0 C114.9 215.3 115.9 185.6 116.4 176.0 C116.9 166.4 117.8 148.9 118.5 140.0 C119.2 131.1 121.9 106.8 122.7 100.0 C123.5 93.2 124.8 84.6 125.2 82.0 C125.6 79.4 125.9 78.5 126.0 78.0" stroke="#0000ff" stroke-dashoffset="2.43"/>
<path d="M113.7 233.0 C113.8 231.7 114.3 228.7 114.6 222.0 C114.9 215.3 115.9 185.6 116.4 176.0 C116.9 166.4 117.8 148.9 118.5 140.0 C119.2 131.1 121.9 106.8 122.7 100.0 C123.5 93.2 124.8 84.6 125.2 82.0 C125.6 79.4 125.9 78.5 126.0 78.0" stroke="#00ff00" stroke-dashoffset="4.86"/>
<path d="M516.9 21.0 C516.9 22.1 517.0 18.5 517.3 30.0 C517.6 41.5 519.2 100.2 519.7 120.0 C520.2 139.8 521.5 185.7 521.9 200.0 C522.3 214.3 523.0 238.0 523.1 243.0" stroke="#ff0000" stroke-dashoffset="0.00"/>
<path d="M516.9 21.0 C516.9 22.1 517.0 18.5 517.3 30.0 C517.6 41.5 519.2 100.2 519.7 120.0 C520.2 139.8 521.5 185.7 521.9 200.0 C522.3 214.3 523.0 238.0 523.1 243.0" stroke="#0000ff" stroke-dashoffset="2.43"/>
<path d="M516.9 21.0 C516.9 22.1 517.0 18.5 517.3 30.0 C517.6 41.5 519.2 100.2 519.7 120.0 C520.2 139.8 521.5 185.7 521.9 200.0 C522.3 214.3 523.0 238.0 523.1 243.0" stroke="#00ff00" stroke-dashoffset="4.86"/>
</g>
<g stroke="#7a7a7a" stroke-width="1" fill="none" shape-rendering="auto">
<rect x="38.5" y="3.6" width="484.7" height="271.7" stroke-width="0.9"/>
<path d="M119.3 275.3 v-4.6 M119.3 3.6 v4.6" stroke-width="0.8"/>
<path d="M200.1 275.3 v-4.6 M200.1 3.6 v4.6" stroke-width="0.8"/>
<path d="M280.9 275.3 v-4.6 M280.9 3.6 v4.6" stroke-width="0.8"/>
<path d="M361.6 275.3 v-4.6 M361.6 3.6 v4.6" stroke-width="0.8"/>
<path d="M442.4 275.3 v-4.6 M442.4 3.6 v4.6" stroke-width="0.8"/>
<path d="M38.5 230.0 h4.6 M523.2 230.0 h-4.6" stroke-width="0.8"/>
<path d="M38.5 184.7 h4.6 M523.2 184.7 h-4.6" stroke-width="0.8"/>
<path d="M38.5 139.5 h4.6 M523.2 139.5 h-4.6" stroke-width="0.8"/>
<path d="M38.5 94.2 h4.6 M523.2 94.2 h-4.6" stroke-width="0.8"/>
<path d="M38.5 48.9 h4.6 M523.2 48.9 h-4.6" stroke-width="0.8"/>
</g>
<path d="M302.3 16.8 V275.3" stroke="#383838" stroke-width="0.88" stroke-dasharray="5.4 1.95" fill="none"/>
<path d="M302.4 11.3 L306.8 19.9 L302.4 16.9 L298.0 19.9 Z" fill="#000"/>
<path d="M152.7 20.0 L193.0 28.9 M193.0 28.9 L183.1 31.6 M193.0 28.9 L185.1 22.3" stroke="#222" stroke-width="0.9" fill="none" stroke-linecap="round"/>
<path d="M281.0 162.0 L295.2 138.4 M295.2 138.4 L295.0 147.6 M295.2 138.4 L287.2 142.9" stroke="#222" stroke-width="0.9" fill="none" stroke-linecap="round"/>
<path d="M153.7 233.6 L164.0 251.2 M164.0 251.2 L155.7 246.5 M164.0 251.2 L163.9 241.7" stroke="#222" stroke-width="0.9" fill="none" stroke-linecap="round"/>
<path d="M391.9 227.1 L409.0 243.8 M409.0 243.8 L399.8 241.4 M409.0 243.8 L406.4 234.7" stroke="#222" stroke-width="0.9" fill="none" stroke-linecap="round"/>
<g filter="url(#nf)"><text transform="translate(8.1 139.7) rotate(-90)" text-anchor="middle" font-family="Liberation Sans, sans-serif" font-size="9.6" letter-spacing="0.5" fill="#262626">Power [kW] (interELM)</text></g>
<g filter="url(#nf)"><text transform="translate(532.3 150.5) rotate(90)" text-anchor="middle" font-family="Liberation Sans, sans-serif" font-size="9.1" font-weight="bold" font-style="italic" letter-spacing="0.03"><tspan fill="#ff0000">70305</tspan><tspan fill="#000">, </tspan><tspan fill="#0000ff">70306, </tspan><tspan fill="#00b050">70302</tspan></text></g>
</svg>
<div class="t xt" style="left:38.5px">0.6</div>
<div class="t xt" style="left:119.3px">0.8</div>
<div class="t xt" style="left:200.1px">1</div>
<div class="t xt" style="left:280.9px">1.2</div>
<div class="t xt" style="left:361.6px">1.4</div>
<div class="t xt" style="left:442.4px">1.6</div>
<div class="t xt" style="left:523.2px">1.8</div>
<div class="t yt" style="top:276.1px">0</div>
<div class="t yt" style="top:230.8px">200</div>
<div class="t yt" style="top:185.5px">400</div>
<div class="t yt" style="top:140.3px">600</div>
<div class="t yt" style="top:95.0px">800</div>
<div class="t yt" style="top:49.7px">1000</div>
<div class="t yt" style="top:4.4px">1200</div>
<div class="t" id="xl" style="font-size:10px;left:281.4px;top:291.4px;transform:translateX(-50%);letter-spacing:0.9px">Time[s]</div>
<div class="t" id="leg" style="font-size:13px;font-weight:bold;font-style:italic;left:58px;top:37.3px;letter-spacing:-0.45px"><span style="color:#ff0000">SN, </span><span style="color:#0000ff">XD, </span><span style="color:#00b050">XPT</span></div>
<div class="t m" id="pin" style="font-size:12.4px;left:133.8px;top:15.3px"><span class="w">P</span><sub style="letter-spacing:0.5px">in</sub></div>
<div class="t m" id="n2" style="font-size:15px;left:259.6px;top:63.2px"><span class="w">N</span><sub style="font-style:normal">2</sub></div>
<div class="t m" id="prad" style="font-size:13px;left:252.4px;top:154.9px"><span class="w">P</span><sub style="font-size:10.4px;top:0.22em;letter-spacing:0.65px;margin-left:-0.6px">rad</sub></div>
<div class="t m" id="ptar" style="font-size:13px;left:127.3px;top:212.4px"><span class="w">P</span><sub style="font-size:10.4px;top:0.27em;letter-spacing:0.9px;margin-left:-0.6px">target</sub></div>
<div class="t m" id="pelm" style="font-size:13.5px;left:361.8px;top:215.2px"><span class="w">P</span><sub style="font-size:9px;letter-spacing:0;top:0.33em;margin-left:-1px">ELM</sub></div>
</body></html>
